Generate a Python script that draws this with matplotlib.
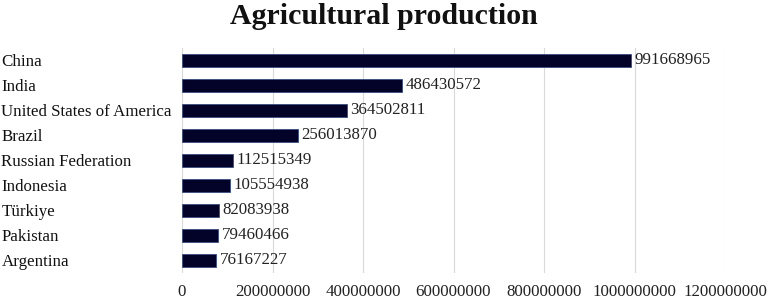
import matplotlib
matplotlib.use("Agg")
import matplotlib.pyplot as plt
from matplotlib.ticker import FixedLocator

countries = ["China", "India", "United States of America", "Brazil", "Russian Federation",
             "Indonesia", "Türkiye", "Pakistan", "Argentina"]
values = [991668965, 486430572, 364502811, 256013870, 112515349,
          105554938, 82083938, 79460466, 76167227]
xticks = [0, 200000000, 400000000, 600000000, 800000000, 1000000000, 1200000000]

plt.rcParams['font.family'] = ['Liberation Serif', 'DejaVu Serif']

fig = plt.figure(figsize=(7.68, 3.0), dpi=100)
ax = fig.add_axes([182/768, (300-272.5)/300, (725-182)/768, (272.5-47.5)/300])

y = list(range(len(countries)))
bars = ax.barh(y, values, height=0.52, color='#03032a', edgecolor='#3a4d80', linewidth=0.6, zorder=3)
for yi, v in zip(y, values):
    ax.annotate(str(v), xy=(v, yi), xytext=(2.5, 0), textcoords='offset points',
                va='center', ha='left', fontsize=12.2, color='#222222')

ax.set_ylim(len(countries) - 0.5, -0.5)
ax.set_xlim(0, 1200000000)
ax.xaxis.set_major_locator(FixedLocator(xticks))
ax.set_xticklabels([str(t) for t in xticks], fontsize=12.2, color='#222222')
ax.set_yticks(y)
ax.set_yticklabels(countries, fontsize=12.2, color='#111111')
for lbl in ax.get_yticklabels():
    lbl.set_horizontalalignment('left')
ax.tick_params(axis='y', length=0, pad=130)
ax.tick_params(axis='x', length=0, pad=8)
ax.grid(axis='x', color='#d9d9d9', linewidth=0.8, zorder=0)
for s in ax.spines.values():
    s.set_visible(False)

fig.text(0.5, 0.99, "Agricultural production", ha='center', va='top',
         fontsize=21.5, fontweight='bold', color='#111111')

fig.savefig("out.png", dpi=100)
